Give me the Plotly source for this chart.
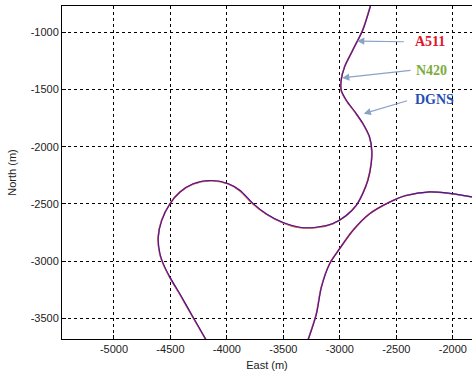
import plotly.graph_objects as go

# Trajectory (East, North in metres); None splits the two visible passes
east_a511 = [-2730, -2798, -2886, -2959, -2989, -2989, -2944, -2856, -2798, -2738, -2718, -2723,
             -2753, -2798, -2856, -2944, -3063, -3209, -3357, -3504, -3651, -3769, -3887, -3990,
             -4137, -4299, -4417, -4505, -4579, -4609, -4594, -4564, -4505, -4417, -4299, -4185, None,
             -3284, -3209, -3165, -3092, -3004, -2886, -2738, -2562, -2414, -2208, -2061, -1800]
north_a511 = [-769, -980, -1155, -1302, -1418, -1506, -1594, -1711, -1796, -1916, -2032, -2147,
              -2296, -2410, -2515, -2603, -2673, -2707, -2707, -2665, -2590, -2500, -2383, -2325,
              -2298, -2326, -2398, -2500, -2647, -2793, -2939, -3026, -3144, -3290, -3495, -3690, None,
              -3695, -3465, -3232, -3026, -2895, -2734, -2588, -2486, -2427, -2396, -2405, -2445]

east_n420 = [-2731, -2799, -2887, -2960, -2991, -2990, -2945, -2857, -2799, -2739, -2719, -2724,
             -2754, -2799, -2857, -2945, -3064, -3210, -3358, -3505, -3652, -3770, -3888, -3991,
             -4138, -4300, -4418, -4506, -4580, -4610, -4595, -4565, -4506, -4418, -4300, -4186, None,
             -3285, -3210, -3166, -3093, -3005, -2887, -2739, -2563, -2415, -2209, -2062, -1800]
north_n420 = [-769, -981, -1156, -1303, -1419, -1507, -1595, -1712, -1797, -1917, -2033, -2148,
              -2297, -2411, -2516, -2604, -2674, -2708, -2708, -2666, -2591, -2501, -2384, -2326,
              -2299, -2327, -2399, -2501, -2648, -2794, -2940, -3027, -3145, -3291, -3496, -3690, None,
              -3695, -3466, -3233, -3027, -2896, -2735, -2589, -2487, -2428, -2397, -2406, -2446]

east_dgns = [-2729, -2797, -2885, -2958, -2988, -2988, -2943, -2855, -2797, -2737, -2717, -2722,
             -2752, -2797, -2855, -2943, -3062, -3208, -3356, -3503, -3650, -3768, -3886, -3989,
             -4136, -4298, -4416, -4504, -4578, -4608, -4593, -4563, -4504, -4416, -4298, -4184, None,
             -3283, -3208, -3164, -3091, -3003, -2885, -2737, -2561, -2413, -2207, -2060, -1800]
north_dgns = [-769, -979, -1154, -1301, -1417, -1505, -1593, -1710, -1795, -1915, -2031, -2146,
              -2295, -2409, -2514, -2602, -2672, -2704, -2704, -2663, -2588, -2498, -2381, -2323,
              -2295, -2324, -2397, -2499, -2646, -2792, -2938, -3025, -3143, -3289, -3494, -3690, None,
              -3695, -3464, -3231, -3025, -2894, -2733, -2587, -2485, -2426, -2395, -2404, -2444]

labels = ["A511", "N420", "DGNS"]
label_colors = ["#e0142c", "#7cab3c", "#1f4fb4"]
label_pos_e = [-2200, -2185, -2164]
label_pos_n = [-1076, -1331, -1585]
arrow_tail_e = [-2420, -2361, -2391]
arrow_tail_n = [-1082, -1331, -1594]
arrow_head_e = [-2847, -2980, -2789]
arrow_head_n = [-1076, -1398, -1711]

x_ticks = [-5000, -4500, -4000, -3500, -3000, -2500, -2000]
y_ticks = [-1000, -1500, -2000, -2500, -3000, -3500]

fig = go.Figure()
fig.add_trace(go.Scatter(x=east_a511, y=north_a511, mode="lines", name="A511",
                         line=dict(color="#ff1010", width=1.6, shape="spline", smoothing=0.8), connectgaps=False))
fig.add_trace(go.Scatter(x=east_n420, y=north_n420, mode="lines", name="N420",
                         line=dict(color="#e8e060", width=1.0, shape="spline", smoothing=0.8), opacity=0.6, connectgaps=False))
fig.add_trace(go.Scatter(x=east_dgns, y=north_dgns, mode="lines", name="DGNS",
                         line=dict(color="#1010c0", width=1.1, shape="spline", smoothing=0.8), opacity=0.85, connectgaps=False))

for i in range(3):
    fig.add_annotation(x=arrow_head_e[i], y=arrow_head_n[i], ax=arrow_tail_e[i], ay=arrow_tail_n[i],
                       xref="x", yref="y", axref="x", ayref="y", text="", showarrow=True,
                       arrowhead=2, arrowsize=1.2, arrowwidth=1.2, arrowcolor="#8aa2c6")
    fig.add_annotation(x=label_pos_e[i], y=label_pos_n[i], xref="x", yref="y", text="<b>%s</b>" % labels[i],
                       showarrow=False, font=dict(family="Liberation Serif", size=14, color=label_colors[i]))

axis_common = dict(showgrid=True, gridcolor="#000000", griddash="3px,3px", gridwidth=1,
                   showline=True, linecolor="#000000", linewidth=1, zeroline=False,
                   ticks="inside", ticklen=4, tickcolor="#000000",
                   tickfont=dict(family="Liberation Sans", size=11, color="#222222"))

fig.update_xaxes(range=[-5460, -1830], tickvals=x_ticks, ticktext=[str(v) for v in x_ticks],
                 mirror=True, title=dict(text="East (m)", font=dict(family="Liberation Sans", size=11, color="#222222"),
                                         standoff=7), **axis_common)
fig.update_yaxes(range=[-3682, -769], tickvals=y_ticks, ticktext=[str(v) for v in y_ticks],
                 mirror=False, title=dict(text="North (m)", font=dict(family="Liberation Sans", size=11, color="#222222"),
                                          standoff=11), **axis_common)

fig.update_layout(width=472, height=376, margin=dict(l=62, r=0, t=6, b=37),
                  plot_bgcolor="#ffffff", paper_bgcolor="#ffffff", showlegend=False)

fig.write_html("out.html")
